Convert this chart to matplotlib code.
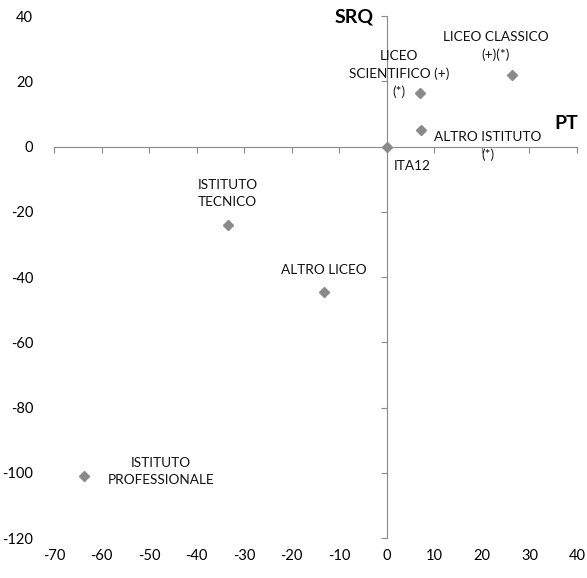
import matplotlib
matplotlib.use("Agg")
import matplotlib.pyplot as plt

# ── Dati ──────────────────────────────────────────────────────────────────────
nomi = ["ITA12", "LICEO\nSCIENTIFICO (+)\n(*)", "LICEO CLASSICO\n(+)(*)",
        "ALTRO ISTITUTO\n(*)", "ISTITUTO\nTECNICO", "ALTRO LICEO",
        "ISTITUTO\nPROFESSIONALE"]
pt = [0, 7.0, 26.4, 7.2, -33.5, -13.2, -63.6]
srq = [0, 16.3, 21.9, 5.2, -23.9, -44.5, -101]

# posizione delle etichette (offset in punti rispetto al marker)
offset = [(18, -14), (-15, 14), (-12, 21), (48, -12), (0, 22.5), (0, 15.6), (55, 3.2)]

x_ticks = list(range(-70, 41, 10))
y_ticks = list(range(-120, 41, 20))

GRIGIO = "#8a8a8a"

plt.rcParams["font.family"] = ["Lato", "DejaVu Sans"]
plt.rcParams["axes.unicode_minus"] = False

fig = plt.figure(figsize=(5.87, 5.78), dpi=100)
ax = fig.add_axes([0.092, 0.069, 0.891, 0.903])

ax.plot(pt, srq, linestyle="none", marker="D", markersize=5.5,
        color=GRIGIO, zorder=3)

for nome, x, y, (dx, dy) in zip(nomi, pt, srq, offset):
    ax.annotate(nome, (x, y), xytext=(dx, dy), textcoords="offset points",
                ha="center", va="center", fontsize=9.8, linespacing=1.5,
                color="#111111")

ax.set_xlim(-70, 40)
ax.set_ylim(-120, 40)

# assi che si incrociano nell'origine
for lato in ("top", "right"):
    ax.spines[lato].set_visible(False)
ax.spines["left"].set_position(("data", 0))
ax.spines["bottom"].set_position(("data", 0))
ax.spines["left"].set_color(GRIGIO)
ax.spines["bottom"].set_color(GRIGIO)
ax.set_xticks(x_ticks)
ax.set_yticks(y_ticks)
ax.tick_params(axis="both", direction="out", length=4, width=0.8,
               color=GRIGIO, labelbottom=False, labelleft=False)

# etichette dei tick sui bordi
sx = ax.secondary_xaxis(0)
sx.set_xticks(x_ticks)
sx.spines["bottom"].set_visible(False)
sx.tick_params(length=0, pad=8, labelsize=10.5)
sy = ax.secondary_yaxis(0)
sy.set_yticks(y_ticks)
sy.spines["left"].set_visible(False)
sy.tick_params(length=0, pad=15, labelsize=10.5)

ax.text(-6.9, 39.7, "SRQ", ha="center", va="center", fontsize=14,
        fontweight="bold")
ax.text(37.8, 7.2, "PT", ha="center", va="center", fontsize=14,
        fontweight="bold")

fig.savefig("out.png", dpi=100)
